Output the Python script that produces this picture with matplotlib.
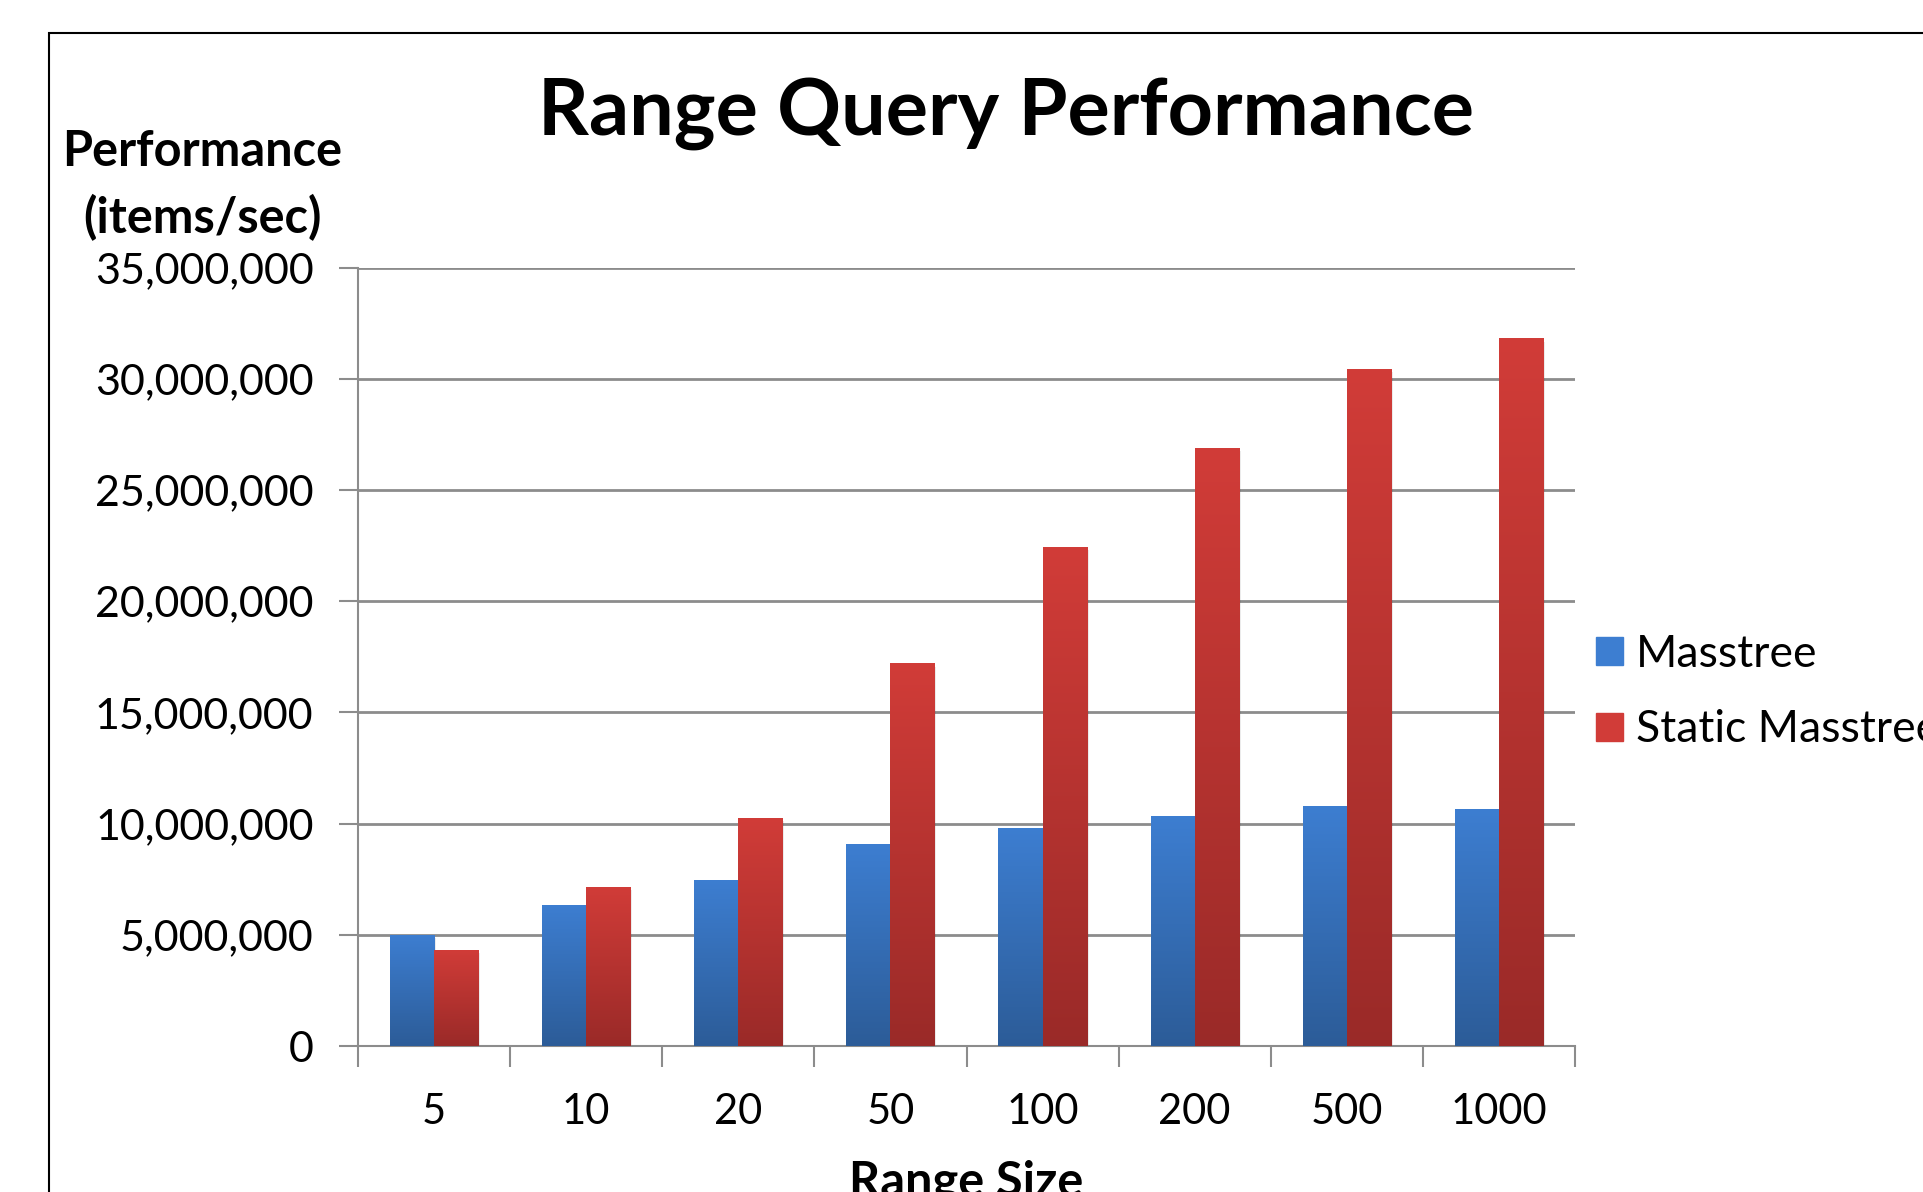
import numpy as np
import matplotlib.pyplot as plt
from matplotlib.patches import Rectangle
from matplotlib.ticker import FuncFormatter, FixedLocator

# data
range_sizes = ['5', '10', '20', '50', '100', '200', '500', '1000']
masstree = [5.00e6, 6.35e6, 7.47e6, 9.10e6, 9.82e6, 10.35e6, 10.80e6, 10.65e6]
static_masstree = [4.33e6, 7.16e6, 10.26e6, 17.20e6, 22.43e6, 26.88e6, 30.43e6, 31.82e6]
series_names = ['Masstree', 'Static Masstree']
y_ticks = [0, 5e6, 10e6, 15e6, 20e6, 25e6, 30e6, 35e6]

plt.rcParams['font.family'] = ['Lato', 'DejaVu Sans']

W, H = 1923, 1192
fig = plt.figure(figsize=(W / 100, H / 100), dpi=100)
ax = fig.add_axes([358 / W, 1 - 1046 / H, (1575 - 358) / W, (1046 - 267.5) / H])

x = np.arange(len(range_sizes))
bw = 0.29

# gradient colours (top, bottom)
blue_top, blue_bot = np.array([0x3d, 0x7e, 0xd1]) / 255, np.array([0x2c, 0x5c, 0x98]) / 255
red_top, red_bot = np.array([0xd1, 0x3c, 0x38]) / 255, np.array([0x9a, 0x2a, 0x28]) / 255


def gradient_bars(xs, vals, top, bot, label):
    bars = ax.bar(xs, vals, width=bw, color=top, label=label, zorder=3, linewidth=0)
    t = np.linspace(0, 1, 256)[:, None]
    grad = top[None, None, :] * (1 - t[:, :, None]) + bot[None, None, :] * t[:, :, None]
    for b in bars:
        x0, w, h = b.get_x(), b.get_width(), b.get_height()
        # soft shadow
        ax.add_patch(Rectangle((x0 + 0.012, 0), w, h - 0.15e6, color='#000000', alpha=0.08,
                               lw=0, zorder=2))
        im = ax.imshow(grad, extent=(x0, x0 + w, 0, h), aspect='auto', zorder=4,
                       interpolation='bilinear')
        im.set_clip_path(b)
    return bars


gradient_bars(x - bw / 2, masstree, blue_top, blue_bot, series_names[0])
gradient_bars(x + bw / 2, static_masstree, red_top, red_bot, series_names[1])

ax.set_xlim(-0.5, len(range_sizes) - 0.5)
ax.set_ylim(0, 35e6)

ax.set_yticks(y_ticks)
ax.yaxis.set_major_formatter(FuncFormatter(lambda v, p: f'{int(v):,}'))
ax.set_xticks(x)
ax.set_xticklabels(range_sizes)
ax.xaxis.set_minor_locator(FixedLocator(np.arange(-0.5, len(range_sizes), 1)))
ax.tick_params(axis='x', which='major', length=0, pad=34, labelsize=30)
ax.tick_params(axis='x', which='minor', length=15, width=1.5, color='#8c8c8c')
ax.tick_params(axis='y', length=14, width=1.5, color='#8c8c8c', pad=18, labelsize=31)

ax.grid(axis='y', color='#8c8c8c', linewidth=2, zorder=0)
ax.set_axisbelow(True)
for s in ['top', 'right']:
    ax.spines[s].set_visible(False)
for s in ['left', 'bottom']:
    ax.spines[s].set_color('#8c8c8c')
    ax.spines[s].set_linewidth(1.5)

fig.text(1006 / W, 1 - 114 / H, 'Range Query Performance', ha='center', va='center',
         fontsize=57, fontweight='bold')
fig.text(202 / W, 1 - 185 / H, 'Performance\n(items/sec)', ha='center', va='center',
         fontsize=35, fontweight='bold', linespacing=1.5)
fig.text(966 / W, 1 - 1182 / H, 'Range Size', ha='center', va='center',
         fontsize=35, fontweight='bold')

handles = [Rectangle((0, 0), 1, 1, color=blue_top), Rectangle((0, 0), 1, 1, color=red_top)]
fig.legend(handles, series_names, loc='center left', bbox_to_anchor=(1574 / W, 1 - 692 / H),
           frameon=False, fontsize=32, handlelength=0.6, handleheight=0.6,
           handletextpad=0.3, labelspacing=0.78, borderpad=0)

# outer chart border (cropped at right and bottom)
fig.add_artist(Rectangle((49 / W, -0.1), 2, 1.1 - 33 / H, fill=False, lw=1.5,
                         edgecolor='#000000', transform=fig.transFigure))

fig.savefig('out.png', dpi=100)
